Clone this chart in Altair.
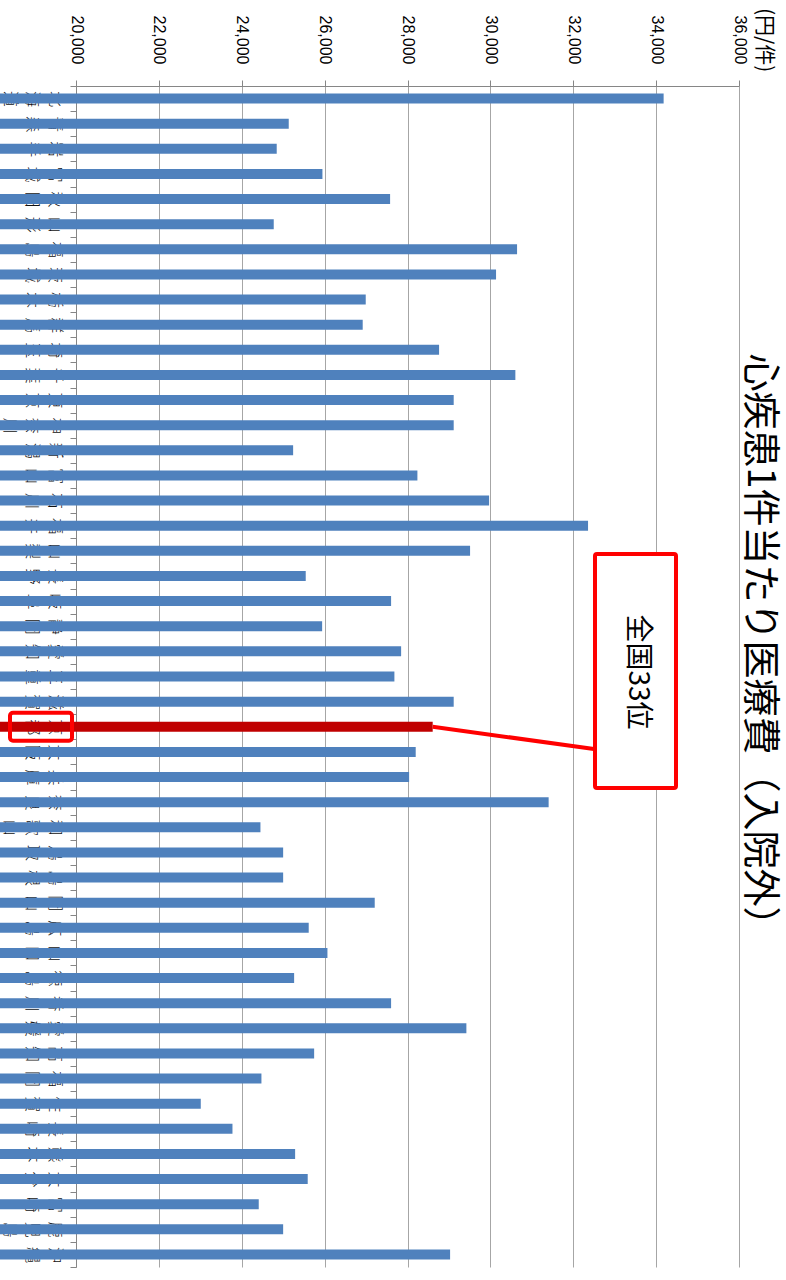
import altair as alt
import pandas as pd

prefectures = ["北海道", "青森", "岩手", "宮城", "秋田", "山形", "福島", "茨城", "栃木", "群馬",
               "埼玉", "千葉", "東京", "神奈川", "新潟", "富山", "石川", "福井", "山梨", "長野",
               "岐阜", "静岡", "愛知", "三重", "滋賀", "京都", "大阪", "兵庫", "奈良", "和歌山",
               "鳥取", "島根", "岡山", "広島", "山口", "徳島", "香川", "愛媛", "高知", "福岡",
               "佐賀", "長崎", "熊本", "大分", "宮崎", "鹿児島", "沖縄"]
values = [34181, 25134, 24844, 25947, 27580, 24772, 30644, 30137, 26992, 26919,
          28762, 30603, 29115, 29115, 25240, 28239, 29969, 32357, 29510, 25544,
          27604, 25940, 27846, 27684, 29115, 28608, 28198, 28039, 31406, 24451,
          24999, 24999, 27209, 25616, 26068, 25264, 27604, 29421, 25747, 24475,
          23011, 23776, 25288, 25592, 24410, 24999, 29028]
x_ticks = [20000, 22000, 24000, 26000, 28000, 30000, 32000, 34000, 36000]
highlight = "京都"
rank_label = "全国33位"
title_text = "心疾患1件当たり医療費（入院外）"
unit_label = "(円/件)"

df = pd.DataFrame({"pref": prefectures, "value": values})
hl_df = df[df["pref"] == highlight]

W, H = 663, 1181
BLUE = "#4F81BD"
DARKRED = "#C00000"
RED = "#FF0000"
CJK = "Noto Sans CJK JP"

x_enc = alt.X(
    "value:Q",
    scale=alt.Scale(domain=[20000, 36000], nice=False, zero=False),
    axis=alt.Axis(
        orient="top", values=x_ticks, format=",.0f", title=None,
        labelAngle=90, labelAlign="right", labelBaseline="middle",
        labelFont="Liberation Sans", labelFontSize=16, labelColor="#000000",
        labelPadding=16, tickSize=6, tickColor="#868686",
        domainColor="#868686", grid=True, gridColor="#A6A6A6", gridWidth=1,
    ),
)
y_enc = alt.Y(
    "pref:N", sort=prefectures,
    scale=alt.Scale(paddingInner=0, paddingOuter=0),
    axis=alt.Axis(
        title=None,
        labelExpr="isString(datum.value) ? split(datum.value, '') : ''",
        labelAngle=90, labelAlign="center", labelBaseline="top",
        labelFont=CJK, labelFontSize=16, labelFontWeight=300,
        labelLineHeight=22.5, labelColor="#111111",
        labelPadding=8, labelOverlap=False, tickSize=6, tickBand="extent",
        tickColor="#868686", domainColor="#868686", grid=False,
    ),
)

bars = alt.Chart(df).mark_bar(size=10).encode(
    x=x_enc,
    y=y_enc,
    color=alt.condition(alt.datum.pref == highlight, alt.value(DARKRED), alt.value(BLUE)),
)

label_box = alt.Chart(hl_df).mark_bar(
    size=28, fillOpacity=0, stroke=RED, strokeWidth=4, cornerRadius=3
).encode(
    y=alt.Y("pref:N", sort=prefectures),
    x=alt.value(-66),
    x2=alt.value(-4),
)

callout_line = alt.Chart(hl_df).mark_rule(color=RED, strokeWidth=4).encode(
    x=alt.X("value:Q"),
    y=alt.Y("pref:N", sort=prefectures),
    x2=alt.value(518),
    y2=alt.value(663),
)

callout_box = alt.Chart(pd.DataFrame({"t": [rank_label]})).mark_rect(
    fill="white", stroke=RED, strokeWidth=4, cornerRadius=2
).encode(
    x=alt.value(519), x2=alt.value(600), y=alt.value(468), y2=alt.value(702),
)

callout_text = alt.Chart(pd.DataFrame({"t": [rank_label]})).mark_text(
    angle=90, align="center", baseline="middle", font=CJK, fontSize=28, color="#000000"
).encode(text="t:N", x=alt.value(561), y=alt.value(586))

title = alt.Chart(pd.DataFrame({"t": [title_text]})).mark_text(
    angle=90, align="center", baseline="middle", font=CJK, fontSize=38, color="#000000"
).encode(text="t:N", x=alt.value(683), y=alt.value(563))

unit = alt.Chart(pd.DataFrame({"t": [unit_label]})).mark_text(
    angle=90, align="left", baseline="middle", font=CJK, fontSize=21, color="#000000"
).encode(text="t:N", x=alt.value(688), y=alt.value(-78))

chart = alt.layer(
    bars, label_box, callout_line, callout_box, callout_text, title, unit
).properties(
    width=W, height=H,
    autosize=alt.AutoSizeParams(type="none"),
    padding={"left": 76, "top": 86, "right": 47, "bottom": 13},
    background="white",
).configure_view(strokeWidth=0)

chart.save("out.html", embed_options={"renderer": "svg", "actions": False})
